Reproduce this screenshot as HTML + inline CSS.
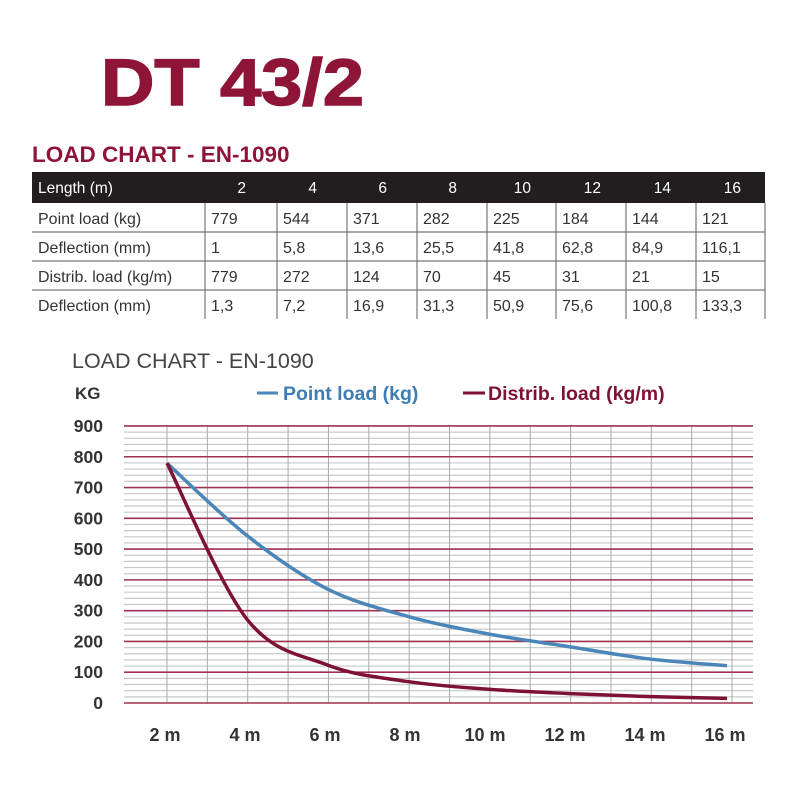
<!DOCTYPE html>
<html><head><meta charset="utf-8"><style>
body{margin:0;width:800px;height:800px;background:#fff;font-family:"Liberation Sans",sans-serif;position:relative;overflow:hidden}
.t{position:absolute;white-space:nowrap}
</style></head><body>
<div class="t" style="left:101px;top:44px;font-size:66px;font-weight:900;color:#8e1537;transform:scaleX(1.12);transform-origin:left top;-webkit-text-stroke:1.5px #8e1537">DT 43/2</div>
<div class="t" style="left:32px;top:142px;font-size:22.5px;font-weight:bold;color:#8e1537">LOAD CHART - EN-1090</div>
<svg width="800" height="800" style="position:absolute;left:0;top:0" id="s" font-family="Liberation Sans, sans-serif">
<rect x="32" y="172" width="733" height="31" fill="#221e1f"/>
<g fill="#fff" font-size="15.5"><text x="38" y="193">Length (m)</text>
<g text-anchor="end"><text x="246" y="193">2</text><text x="317" y="193">4</text><text x="387" y="193">6</text><text x="457" y="193">8</text><text x="531" y="193">10</text><text x="601" y="193">12</text><text x="671" y="193">14</text><text x="741" y="193">16</text></g></g>
<g stroke="#777" stroke-width="1.2">
<line x1="32" y1="232" x2="765" y2="232"/><line x1="32" y1="261" x2="765" y2="261"/><line x1="32" y1="290" x2="765" y2="290"/>
<line x1="205" y1="203" x2="205" y2="319"/><line x1="277" y1="203" x2="277" y2="319"/><line x1="347" y1="203" x2="347" y2="319"/><line x1="417" y1="203" x2="417" y2="319"/><line x1="487" y1="203" x2="487" y2="319"/><line x1="556" y1="203" x2="556" y2="319"/><line x1="626" y1="203" x2="626" y2="319"/><line x1="696" y1="203" x2="696" y2="319"/><line x1="765" y1="203" x2="765" y2="319"/>
</g>
<g fill="#333" font-size="16" id="tb"></g>
<text x="72" y="368" font-size="21.5" fill="#444">LOAD CHART - EN-1090</text>
<text x="75" y="399" font-size="17" font-weight="bold" fill="#333">KG</text>
<line x1="257" y1="393" x2="278" y2="393" stroke="#4a86b8" stroke-width="3"/>
<text x="283" y="400" font-size="19.5" font-weight="bold" fill="#3f7db3">Point load (kg)</text>
<line x1="463" y1="393" x2="485" y2="393" stroke="#7d1235" stroke-width="3"/>
<text x="488" y="400" font-size="19.5" font-weight="bold" fill="#7d1235">Distrib. load (kg/m)</text>
<g id="grid"></g>
<path id="p1" fill="none" stroke="#4a86b8" stroke-width="3.5"/>
<path id="p2" fill="none" stroke="#7d1235" stroke-width="3.5"/>
</svg>
<script>
var ns="http://www.w3.org/2000/svg";
function el(p,n,a,t){var e=document.createElementNS(ns,n);for(var k in a)e.setAttribute(k,a[k]);if(t!=null)e.textContent=t;p.appendChild(e);return e;}
var rows=[["Point load (kg)","779","544","371","282","225","184","144","121"],["Deflection (mm)","1","5,8","13,6","25,5","41,8","62,8","84,9","116,1"],["Distrib. load (kg/m)","779","272","124","70","45","31","21","15"],["Deflection (mm)","1,3","7,2","16,9","31,3","50,9","75,6","100,8","133,3"]];
var cx=[38,211,283,353,423,493,562,632,702],tb=document.getElementById("tb");
rows.forEach(function(r,i){r.forEach(function(c,j){el(tb,"text",{x:cx[j],y:224+i*29},c);});});
var g=document.getElementById("grid");
function Y(v){return 703-v*0.3078;}function X(m){return 167+(m-2)*40;}
for(var v=0;v<=900;v+=20){if(v%100)el(g,"line",{x1:124,x2:753,y1:Y(v),y2:Y(v),stroke:"#c8c8c8","stroke-width":1.2});}
for(var k=0;k<=14;k++){var x=167+k*40.36;el(g,"line",{x1:x,x2:x,y1:Y(900),y2:Y(0),stroke:"#aaa","stroke-width":1});}
for(var v=0;v<=900;v+=100){el(g,"line",{x1:124,x2:753,y1:Y(v),y2:Y(v),stroke:"#a0304f","stroke-width":1.6});
el(g,"text",{x:103,y:Y(v)+6,"text-anchor":"end","font-size":17.5,"font-weight":"bold",fill:"#333"},""+v);}
for(var m=2;m<=16;m+=2)el(g,"text",{x:X(m)-2,y:741,"text-anchor":"middle","font-size":18,"font-weight":"bold",fill:"#333"},m+" m");
function path(vals){var p=vals.map(function(v,i){return[X(2+2*i),Y(v)]});var d="M"+p[0];
for(var i=0;i<p.length-1;i++){var a=p[i-1]||p[i],b=p[i],c=p[i+1],e=p[i+2]||c;
d+=" C"+(b[0]+(c[0]-a[0])/6)+","+(b[1]+(c[1]-a[1])/6)+" "+(c[0]-(e[0]-b[0])/6)+","+(c[1]-(e[1]-b[1])/6)+" "+c;}return d;}
document.getElementById("p1").setAttribute("d",path([779,544,371,282,225,184,144,121]));
document.getElementById("p2").setAttribute("d",path([779,272,124,70,45,31,21,15]));
</script>
</body></html>
